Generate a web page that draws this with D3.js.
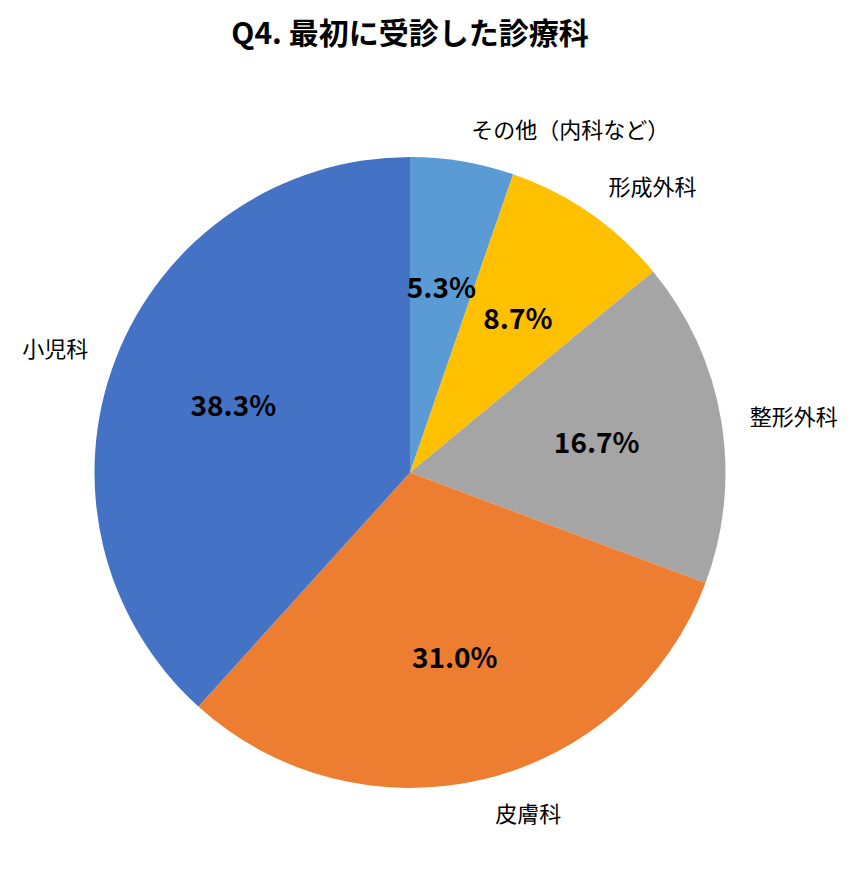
<!DOCTYPE html>
<html>
<head>
<meta charset="utf-8">
<script src="https://cdn.jsdelivr.net/npm/d3@7"></script>
<style>
  body { margin: 0; background: #fff; }
  svg { display: block; }
</style>
</head>
<body>
<svg id="chart"></svg>
<script>
// data
var categories = ["その他（内科など）", "形成外科", "整形外科", "皮膚科", "小児科"];
var values = [5.3, 8.7, 16.7, 31.0, 38.3];
var colors = ["#5B9BD5", "#FFC000", "#A5A5A5", "#ED7D31", "#4472C4"];
var title = "Q4. 最初に受診した診療科";

var width = 858, height = 883;
var cx = 410, cy = 472.5, r = 315.5;

var svg = d3.select("#chart")
  .attr("width", width)
  .attr("height", height);

svg.append("text")
  .attr("x", cx)
  .attr("y", 31)
  .attr("text-anchor", "middle")
  .attr("dominant-baseline", "central")
  .style("font-family", "'Noto Sans CJK JP', sans-serif")
  .style("font-weight", 700)
  .style("font-size", "30px")
  .style("fill", "#000")
  .text(title);

var pie = d3.pie().sort(null).value(d => d);
var arcs = pie(values);

var arc = d3.arc().innerRadius(0).outerRadius(r);
var inner = d3.arc().innerRadius(r * 0.6).outerRadius(r * 0.6);

var g = svg.append("g").attr("transform", `translate(${cx}, ${cy})`);

g.selectAll("path.slice")
  .data(arcs)
  .join("path")
  .attr("class", "slice")
  .attr("d", arc)
  .style("fill", (d, i) => colors[i]);

// percent labels inside
g.selectAll("text.pct")
  .data(arcs)
  .join("text")
  .attr("class", "pct")
  .attr("transform", d => `translate(${inner.centroid(d)})`)
  .attr("text-anchor", "middle")
  .attr("dominant-baseline", "central")
  .style("font-family", "'Noto Sans CJK JP', sans-serif")
  .style("font-weight", 700)
  .style("font-size", "28px")
  .style("fill", "#000")
  .text(d => d.value.toFixed(1) + "%");

// category labels outside
var gap = 24;
g.selectAll("text.cat")
  .data(arcs)
  .join("text")
  .attr("class", "cat")
  .each(function (d, i) {
    var a = (d.startAngle + d.endAngle) / 2;
    var s = Math.sin(a), c = Math.cos(a);
    var ax = (r + gap) * s, ay = -(r + gap) * c;
    var right = s >= 0;
    d3.select(this)
      .attr("x", ax + (right ? 5 : -5))
      .attr("y", ay - c * 10)
      .attr("text-anchor", right ? "start" : "end");
  })
  .attr("dominant-baseline", "central")
  .style("font-family", "'Noto Sans CJK JP', sans-serif")
  .style("font-size", "22px")
  .style("fill", "#000")
  .text((d, i) => categories[i]);
</script>
</body>
</html>
